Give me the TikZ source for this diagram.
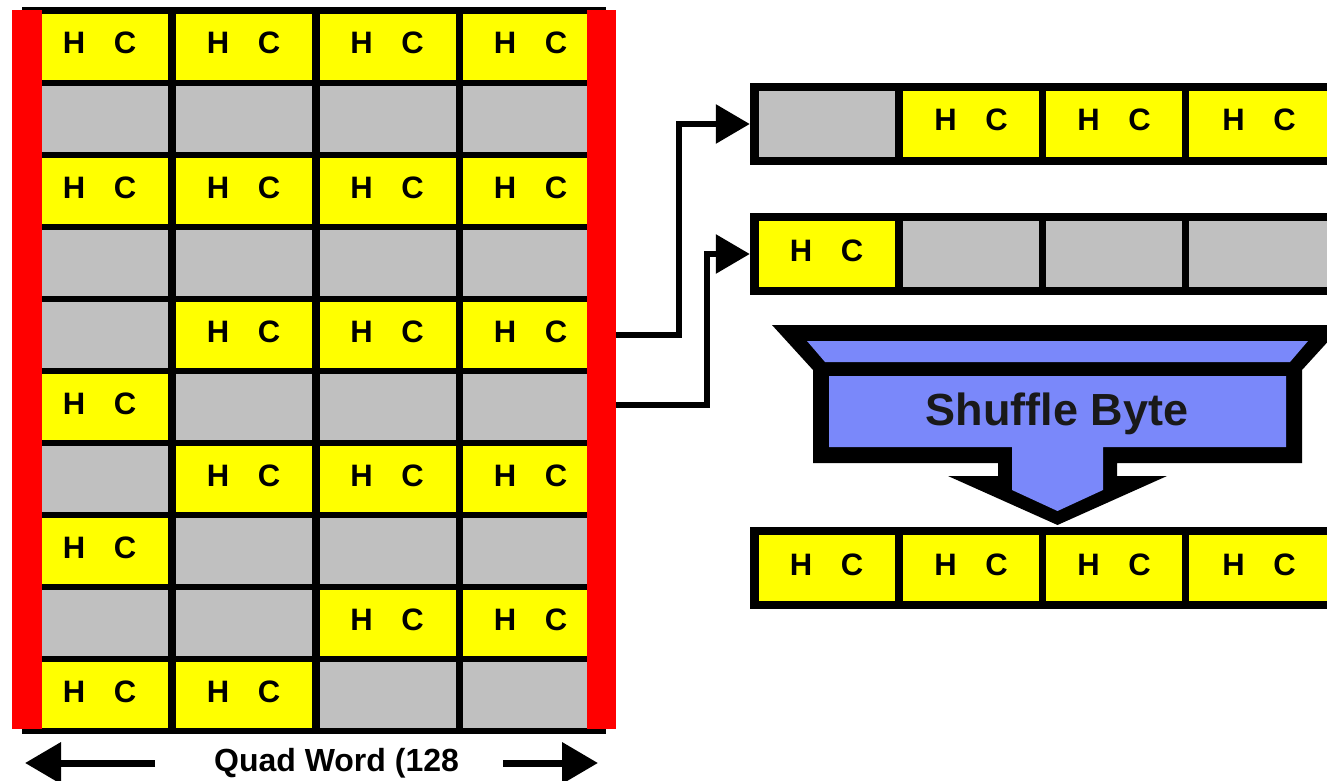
\documentclass[tikz,border=0pt]{standalone}
\usepackage{fontspec}
\setmainfont{Liberation Sans}
\usetikzlibrary{arrows.meta}
\definecolor{cyel}{RGB}{255,255,0}
\definecolor{cgry}{RGB}{192,192,192}
\definecolor{cred}{RGB}{255,0,0}
\definecolor{cblu}{RGB}{122,136,250}
\begin{document}
\begin{tikzpicture}[x=1pt,y=-1pt,
  cellbox/.style={draw=none, inner sep=0pt, minimum width=136pt, minimum height=66pt},
  y cell/.style={cellbox, fill=cyel},
  g cell/.style={cellbox, fill=cgry},
  hc/.style={font=\fontsize{31}{31}\selectfont\bfseries, anchor=base, inner sep=0pt},
  bigtext/.style={font=\fontsize{32}{32}\selectfont\bfseries, anchor=base, inner sep=0pt},
  frame/.style={fill=black, draw=none, inner sep=0pt, minimum height=82pt, minimum width=595pt},
  redbar/.style={fill=cred, draw=none, inner sep=0pt},
  conn/.style={line width=6pt, -{Triangle[length=34pt,width=38pt]}},
  dimarrow/.style={line width=7pt, -{Triangle[length=36pt,width=40pt]}},
]
\useasboundingbox (0,0) rectangle (1327,781);
\clip (0,0) rectangle (1327,781);
\fill[white] (0,0) rectangle (1327,781);

% ---- left grid ----
\node[fill=black, inner sep=0pt, minimum width=584pt, minimum height=727pt] (grid) at (314,370.5) {};
\foreach \r/\a/\b/\e/\d in {1/y/y/y/y, 2/g/g/g/g, 3/y/y/y/y, 4/g/g/g/g, 5/g/y/y/y,
                            6/y/g/g/g, 7/g/y/y/y, 8/y/g/g/g, 9/g/g/y/y, 10/y/y/g/g}{
  \pgfmathsetmacro{\top}{14+72*(\r-1)}
  \foreach \c/\s/\cx in {1/\a/100, 2/\b/244, 3/\e/387.5, 4/\d/531}{
    \node[\s\space cell] (c-\r-\c) at (\cx,\top+33) {};
    \if\s y
      \node[hc] (t-\r-\c) at (\cx-0.5,\top+40) {H\hspace{28.6pt}C};
    \fi
  }
}
\node[redbar, minimum width=30pt, minimum height=719pt] (redL) at (27,369.5) {};
\node[redbar, minimum width=29pt, minimum height=719pt] (redR) at (601.5,369.5) {};

% ---- dimension arrows ----
\node[bigtext] (qw) at (336.5,771) {Quad Word (128};
\coordinate (la) at (155,763);
\coordinate (lt) at (25,763);
\coordinate (ra) at (503,763);
\coordinate (rt) at (598,763);
\draw[dimarrow] (la) -- (lt);
\draw[dimarrow] (ra) -- (rt);

% ---- right rows ----
\foreach \n/\top/\a/\b/\e/\d in {A/91/g/y/y/y, B/221/y/g/g/g, C/535/y/y/y/y}{
  \node[frame] (row\n) at (1047.5,\top+33) {};
  \foreach \c/\s/\cx/\w in {1/\a/826.5/136, 2/\b/971/136, 3/\e/1114/136, 4/\d/1259/140}{
    \node[\s\space cell, minimum width=\w pt] (r\n-\c) at (\cx,\top+33) {};
    \if\s y
      \node[hc] (rt\n-\c) at (\cx,\top+40) {H\hspace{28.6pt}C};
    \fi
  }
}

% ---- connectors ----
\coordinate (s1) at (616,335);
\coordinate (s2) at (616,405);
\draw[conn] (s1) -- ++(63,0) |- (rowA.west);
\draw[conn] (s2) -- ++(91,0) |- (rowB.west);

% ---- shuffle funnel ----
\fill[black] (772,325) -- (1343,325) -- (1302,370) -- (1302,463) -- (1117,463) -- (1117,476)
  -- (1167,476) -- (1057.5,525) -- (948,476) -- (998,476) -- (998,463) -- (813,463)
  -- (813,370) -- cycle;
\fill[cblu] (807,341) -- (1308,341) -- (1290,362) -- (825,362) -- cycle;
\fill[cblu] (829,376) -- (1286,376) -- (1286,447) -- (1103,447) -- (1103,490)
  -- (1057.5,511) -- (1012,490) -- (1012,447) -- (829,447) -- cycle;
\node[font=\fontsize{45}{45}\selectfont\bfseries, anchor=base, inner sep=0pt, text=black!90] (sb) at (1057,425) {Shuffle Byte};
\end{tikzpicture}
\end{document}
